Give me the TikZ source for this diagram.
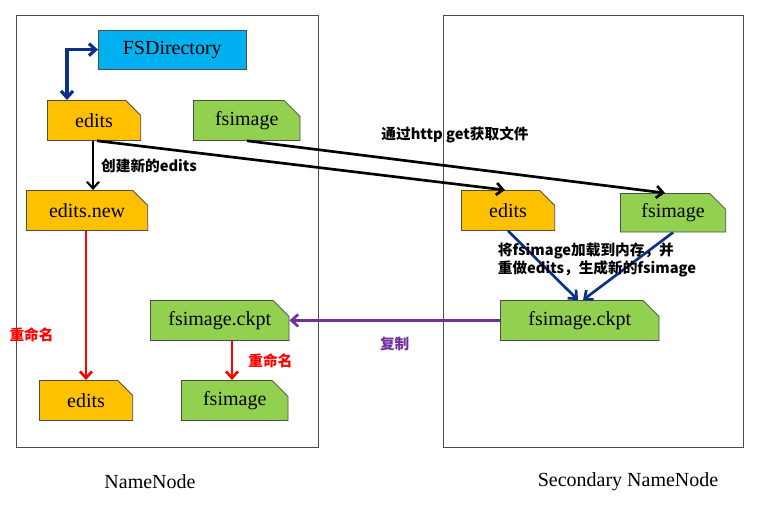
\documentclass[tikz,border=0pt]{standalone}
\usepackage{fontspec}
\setmainfont{Liberation Serif}
\newfontfamily\cjk{Noto Sans CJK SC}
\usetikzlibrary{shapes.misc,arrows.meta}
\definecolor{dirblue}{RGB}{0,176,240}
\definecolor{editorange}{RGB}{255,192,0}
\definecolor{imggreen}{RGB}{146,208,80}
\definecolor{darkblue}{RGB}{10,50,140}
\definecolor{copypurple}{RGB}{112,48,160}

\begin{document}
\begin{tikzpicture}[x=0.75pt,y=-0.75pt,
    doc/.style={chamfered rectangle,chamfered rectangle corners=north east,
        chamfered rectangle xsep=6pt,chamfered rectangle ysep=6pt,
        draw=black!70,line width=.6pt,anchor=north west,inner sep=0pt,
        font=\fontsize{15}{15}\selectfont},
    note/.style={font=\cjk\bfseries\fontsize{11}{14}\selectfont,align=left},
    flow/.style={-{Straight Barb[length=5pt,width=9pt]},line width=2pt},
    ]
    \useasboundingbox (0,0) rectangle (766,511);
    % frames
    \draw[black!70] (16,15) rectangle (318,447);
    \draw[black!70] (443,15) rectangle (743,447);
    \node[font=\fontsize{15}{15}\selectfont] (nn) at (150,482) {NameNode};
    \node[font=\fontsize{15}{15}\selectfont] (snn) at (628,482) {Secondary NameNode};
    % NameNode side
    \node[draw=black!70,fill=dirblue,minimum width=111pt,minimum height=29pt,
          anchor=north west,font=\fontsize{15}{15}\selectfont] (fsdir) at (98,30) {FSDirectory};
    \node[doc,fill=editorange,minimum width=70pt,minimum height=30pt] (edits) at (47,100) {edits};
    \node[doc,fill=imggreen,minimum width=80pt,minimum height=30pt] (fsimg) at (193,100) {fsimage};
    \node[doc,fill=editorange,minimum width=91pt,minimum height=30pt] (editsnew) at (26,190) {edits.new};
    \node[doc,fill=editorange,minimum width=70pt,minimum height=30pt] (editsfin) at (39,380) {edits};
    \node[doc,fill=imggreen,minimum width=104pt,minimum height=30pt] (ckpt) at (150,300) {fsimage.ckpt};
    \node[doc,fill=imggreen,minimum width=80pt,minimum height=30pt] (fsimgfin) at (181,380) {fsimage};
    % Secondary side
    \node[doc,fill=editorange,minimum width=70pt,minimum height=30pt] (sedits) at (461,190) {edits};
    \node[doc,fill=imggreen,minimum width=79pt,minimum height=29pt] (sfsimg) at (620,193) {fsimage};
    \node[doc,fill=imggreen,minimum width=119pt,minimum height=30pt] (sckpt) at (500,300) {fsimage.ckpt};
    % connectors
    \draw[darkblue,{Straight Barb[length=5pt,width=9pt]}-{Straight Barb[length=5pt,width=9pt]},line width=2.4pt]
        (edits.north west-|67,0) |- (fsdir.west);
    \draw[flow,line width=1.6pt] (edits.south west-|93,0) -- (editsnew.north west-|93,0)
        node[note,midway,right=2pt] {创建新的edits};
    \draw[flow] (edits.south west-|97,0) -- (sedits.north west-|505,0);
    \draw[flow] (fsimg.south west-|247,0) -- (sfsimg.north west-|665,0);
    \node[note] (getnote) at (455,135) {通过http get获取文件};
    \draw[flow,darkblue] (sedits.south west-|508,0) -- (sckpt.north west-|578,0);
    \draw[flow,darkblue] (sfsimg.south west-|673,0) -- (sckpt.north west-|583,0);
    \node[note] (loadnote) at (597,260) {将fsimage加载到内存，并\\重做edits，生成新的fsimage};
    \draw[flow,copypurple] (sckpt.west) -- (ckpt.east)
        node[note,midway,below=8pt] {复制};
    \draw[flow,red] (editsnew.south west-|86,0) -- (editsfin.north west-|86,0)
        node[note,pos=.7,left=20pt] {重命名};
    \draw[flow,red] (ckpt.south west-|232,0) -- (fsimgfin.north west-|232,0)
        node[note,midway,right=8pt] {重命名};
\end{tikzpicture}
\end{document}
